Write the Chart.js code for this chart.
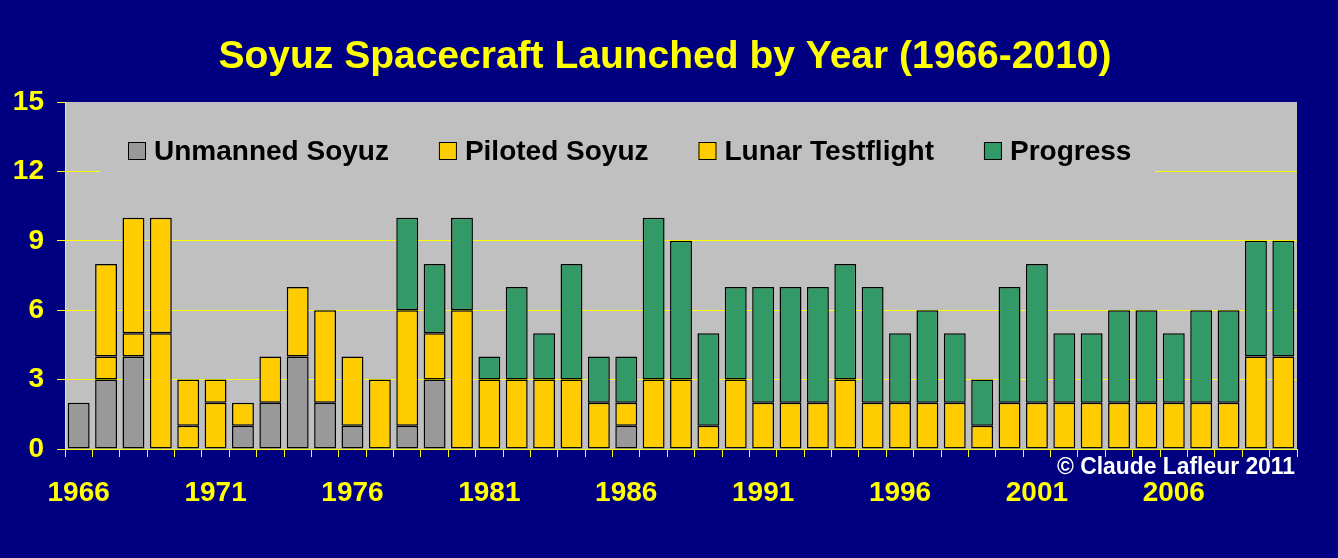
<!DOCTYPE html>
<html>
<head>
<meta charset="utf-8">
<title>Soyuz Spacecraft Launched by Year</title>
<script src="https://cdn.jsdelivr.net/npm/chart.js@4/dist/chart.umd.min.js"></script>
<style>
  body { margin: 0; background: #000080; }
  canvas { display: block; }
</style>
</head>
<body>
<canvas id="mycanvas" width="1338" height="558"></canvas>
<script>
const years = [
  "1966", "1967", "1968", "1969", "1970", "1971", "1972", "1973", "1974", "1975",
  "1976", "1977", "1978", "1979", "1980", "1981", "1982", "1983", "1984", "1985",
  "1986", "1987", "1988", "1989", "1990", "1991", "1992", "1993", "1994", "1995",
  "1996", "1997", "1998", "1999", "2000", "2001", "2002", "2003", "2004", "2005",
  "2006", "2007", "2008", "2009", "2010"
];

const unmanned = [
  2, 3, 4, 0, 0, 0, 1, 2, 4, 2,
  1, 0, 1, 3, 0, 0, 0, 0, 0, 0,
  1, 0, 0, 0, 0, 0, 0, 0, 0, 0,
  0, 0, 0, 0, 0, 0, 0, 0, 0, 0,
  0, 0, 0, 0, 0
];

const piloted = [
  0, 1, 1, 5, 1, 2, 1, 2, 3, 4,
  3, 3, 5, 2, 6, 3, 3, 3, 3, 2,
  1, 3, 3, 1, 3, 2, 2, 2, 3, 2,
  2, 2, 2, 1, 2, 2, 2, 2, 2, 2,
  2, 2, 2, 4, 4
];

const lunar = [
  0, 4, 5, 5, 2, 1, 0, 0, 0, 0,
  0, 0, 0, 0, 0, 0, 0, 0, 0, 0,
  0, 0, 0, 0, 0, 0, 0, 0, 0, 0,
  0, 0, 0, 0, 0, 0, 0, 0, 0, 0,
  0, 0, 0, 0, 0
];

const progress = [
  0, 0, 0, 0, 0, 0, 0, 0, 0, 0,
  0, 0, 4, 3, 4, 1, 4, 2, 5, 2,
  2, 7, 6, 4, 4, 5, 5, 5, 5, 5,
  3, 4, 3, 2, 5, 6, 3, 3, 4, 4,
  3, 4, 4, 5, 5
];

const yTicks = [0, 3, 6, 9, 12, 15];

const TITLE = 'Soyuz Spacecraft Launched by Year (1966-2010)';
const YELLOW = '#FFFF00';
const NAVY = '#000080';
const FONT = "'Liberation Sans', Arial, sans-serif";

// zero segments are left out so no stray outline is drawn
const seg = (arr) => arr.map(v => v === 0 ? null : v);

const makeSet = (label, values, color) => ({
  label: label,
  data: seg(values),
  backgroundColor: color,
  borderColor: '#000000',
  borderWidth: 1.5,
  borderSkipped: false,
  categoryPercentage: 1.0,
  barPercentage: 0.8
});

// backgrounds: navy page, silver plot area
const backgrounds = {
  id: 'backgrounds',
  beforeDraw(chart) {
    const { ctx, chartArea } = chart;
    ctx.save();
    ctx.fillStyle = NAVY;
    ctx.fillRect(0, 0, chart.width, chart.height);
    ctx.fillStyle = '#C0C0C0';
    ctx.fillRect(chartArea.left, chartArea.top, chartArea.right - chartArea.left, chartArea.bottom - chartArea.top);
    ctx.restore();
  }
};

// legend drawn inside the plot, on a silver strip over the grid
const insideLegend = {
  id: 'insideLegend',
  afterDatasetsDraw(chart) {
    const { ctx, chartArea } = chart;
    ctx.save();
    ctx.fillStyle = '#C0C0C0';
    ctx.fillRect(chartArea.left + 35, chartArea.top + 26, 1055, 48);
    ctx.font = 'bold 28px ' + FONT;
    ctx.textBaseline = 'middle';
    let x = chartArea.left + 63;
    const cy = chartArea.top + 49;
    chart.data.datasets.forEach(ds => {
      ctx.fillStyle = ds.backgroundColor;
      ctx.fillRect(x, cy - 9, 18, 18);
      ctx.strokeStyle = '#000000';
      ctx.lineWidth = 1;
      ctx.strokeRect(x + 0.5, cy - 8.5, 17, 17);
      ctx.fillStyle = '#000000';
      ctx.fillText(ds.label, x + 26, cy + 1);
      x += 26 + ctx.measureText(ds.label).width + 50;
    });
    ctx.restore();
  }
};

// title and credit line
const texts = {
  id: 'texts',
  afterDraw(chart) {
    const { ctx, chartArea } = chart;
    ctx.save();
    ctx.font = 'bold 39px ' + FONT;
    ctx.fillStyle = YELLOW;
    ctx.textAlign = 'center';
    ctx.textBaseline = 'alphabetic';
    ctx.fillText(TITLE, 665, 68);

    ctx.font = 'bold 24px ' + FONT;
    ctx.fillStyle = '#FFFFFF';
    ctx.textAlign = 'right';
    ctx.textBaseline = 'middle';
    ctx.fillText('\u00A9 Claude Lafleur 2011', chartArea.right - 2, chartArea.bottom + 18, 238);
    ctx.restore();
  }
};

new Chart(document.getElementById('mycanvas'), {
  type: 'bar',
  data: {
    labels: years,
    datasets: [
      makeSet('Unmanned Soyuz', unmanned, '#999999'),
      makeSet('Piloted Soyuz', piloted, '#FFCC00'),
      makeSet('Lunar Testflight', lunar, '#FFCC00'),
      makeSet('Progress', progress, '#339966')
    ]
  },
  options: {
    responsive: false,
    animation: false,
    layout: { padding: { left: 0, right: 41, top: 102, bottom: 0 } },
    plugins: {
      legend: { display: false },
      tooltip: { enabled: false },
      title: { display: false }
    },
    scales: {
      x: {
        stacked: true,
        offset: true,
        border: { color: YELLOW, width: 1 },
        grid: {
          offset: true,
          drawOnChartArea: false,
          color: YELLOW,
          tickLength: 8
        },
        ticks: {
          autoSkip: false,
          maxRotation: 0,
          color: YELLOW,
          padding: 19,
          font: { family: FONT, size: 28, weight: 'bold' },
          callback: (val, i) => i % 5 === 0 ? years[i] : ''
        },
        afterFit: (scale) => { scale.height = 109; }
      },
      y: {
        stacked: true,
        min: yTicks[0],
        max: yTicks[yTicks.length - 1],
        border: { color: YELLOW, width: 1 },
        grid: {
          color: (c) => c.tick && c.tick.value === 15 ? 'rgba(0,0,0,0)' : YELLOW,
          tickColor: YELLOW,
          tickLength: 8
        },
        afterBuildTicks: (scale) => { scale.ticks = yTicks.map(v => ({ value: v })); },
        ticks: {
          color: YELLOW,
          padding: 13,
          font: { family: FONT, size: 28, weight: 'bold' }
        },
        afterFit: (scale) => { scale.width = 65; }
      }
    }
  },
  plugins: [backgrounds, insideLegend, texts]
});
</script>
</body>
</html>
